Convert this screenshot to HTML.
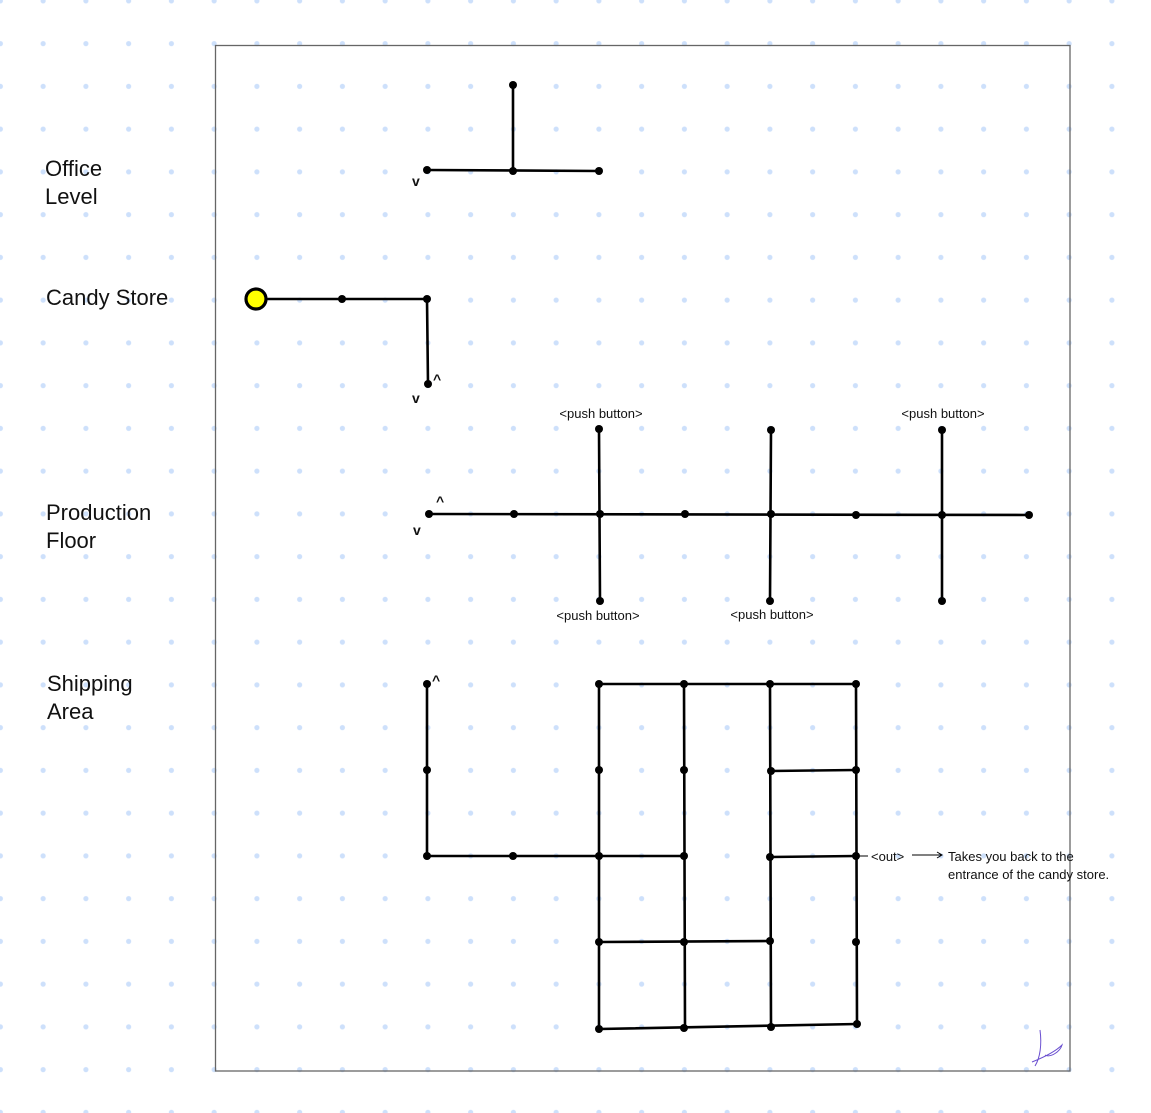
<!DOCTYPE html>
<html><head><meta charset="utf-8"><style>
html,body{margin:0;padding:0;background:#fff;}
svg{display:block;}
text{font-family:"Liberation Sans",sans-serif;fill:#111;}
</style></head><body>
<svg width="1151" height="1113" viewBox="0 0 1151 1113" xmlns="http://www.w3.org/2000/svg">
<defs>
<pattern id="g" x="-21" y="-20.5" width="42.75" height="42.75" patternUnits="userSpaceOnUse">
<circle cx="21.4" cy="21.4" r="2.6" fill="#cde0fb"/>
</pattern>
</defs>
<rect width="1151" height="1113" fill="#fff"/>
<rect width="1151" height="1113" fill="url(#g)"/>
<rect x="215.5" y="45.5" width="854.5" height="1025.5" fill="none" stroke="#666" stroke-width="1.3"/>

<text x="45" y="176" font-size="22">Office</text>
<text x="45" y="204" font-size="22">Level</text>
<text x="46" y="305" font-size="22">Candy Store</text>
<text x="46" y="520" font-size="22">Production</text>
<text x="46" y="548" font-size="22">Floor</text>
<text x="47" y="691" font-size="22">Shipping</text>
<text x="47" y="719" font-size="22">Area</text>

<g stroke="#000" stroke-width="2.6" fill="none" stroke-linecap="round">
<!-- office -->
<line x1="513" y1="85" x2="513" y2="171"/>
<line x1="427" y1="170" x2="599" y2="171"/>
<!-- candy -->
<polyline points="256,299 427,299 428,384"/>
<!-- production -->
<line x1="429" y1="514" x2="1029" y2="515"/>
<line x1="599" y1="429" x2="600" y2="601"/>
<line x1="771" y1="430" x2="770" y2="601"/>
<line x1="942" y1="430" x2="942" y2="601"/>
<!-- shipping -->
<polyline points="427,684 427,856 599,856"/>
<line x1="599" y1="684" x2="857" y2="684"/>
<line x1="599" y1="684" x2="599" y2="1029"/>
<line x1="684" y1="684" x2="685" y2="1028"/>
<line x1="770" y1="684" x2="771" y2="1027"/>
<line x1="856" y1="684" x2="857" y2="1024"/>
<line x1="599" y1="1029" x2="857" y2="1024"/>
<line x1="770" y1="771" x2="856" y2="770"/>
<line x1="599" y1="856" x2="684" y2="856"/>
<line x1="770" y1="857" x2="856" y2="856"/>
<line x1="599" y1="942" x2="770" y2="941"/>
</g>
<line x1="858" y1="856" x2="868" y2="856" stroke="#000" stroke-width="1"/>
<line x1="912" y1="855" x2="941" y2="855" stroke="#000" stroke-width="1"/>
<polyline points="937,852 942,855 937,858" fill="none" stroke="#000" stroke-width="1"/>

<g fill="#000">
<circle cx="513" cy="85" r="4"/><circle cx="427" cy="170" r="4"/><circle cx="513" cy="171" r="4"/><circle cx="599" cy="171" r="4"/>
<circle cx="342" cy="299" r="4"/><circle cx="427" cy="299" r="4"/><circle cx="428" cy="384" r="4"/>
<circle cx="429" cy="514" r="4"/><circle cx="514" cy="514" r="4"/><circle cx="600" cy="514" r="4"/><circle cx="685" cy="514" r="4"/><circle cx="771" cy="514" r="4"/><circle cx="856" cy="515" r="4"/><circle cx="942" cy="515" r="4"/><circle cx="1029" cy="515" r="4"/>
<circle cx="599" cy="429" r="4"/><circle cx="600" cy="601" r="4"/><circle cx="771" cy="430" r="4"/><circle cx="770" cy="601" r="4"/><circle cx="942" cy="430" r="4"/><circle cx="942" cy="601" r="4"/>
<circle cx="427" cy="684" r="4"/><circle cx="427" cy="770" r="4"/><circle cx="427" cy="856" r="4"/><circle cx="513" cy="856" r="4"/>
<circle cx="599" cy="684" r="4"/><circle cx="599" cy="770" r="4"/><circle cx="599" cy="856" r="4"/><circle cx="599" cy="942" r="4"/><circle cx="599" cy="1029" r="4"/>
<circle cx="684" cy="684" r="4"/><circle cx="684" cy="770" r="4"/><circle cx="684" cy="856" r="4"/><circle cx="684" cy="942" r="4"/><circle cx="684" cy="1028" r="4"/>
<circle cx="770" cy="684" r="4"/><circle cx="771" cy="771" r="4"/><circle cx="770" cy="857" r="4"/><circle cx="770" cy="941" r="4"/><circle cx="771" cy="1027" r="4"/>
<circle cx="856" cy="684" r="4"/><circle cx="856" cy="770" r="4"/><circle cx="856" cy="856" r="4"/><circle cx="856" cy="942" r="4"/><circle cx="857" cy="1024" r="4"/>
</g>
<circle cx="256" cy="299" r="10" fill="#ffff00" stroke="#000" stroke-width="3.2"/>

<g font-size="14" font-weight="bold">
<text x="412" y="186">v</text>
<text x="412" y="403">v</text>
<text x="433" y="384">^</text>
<text x="413" y="535">v</text>
<text x="436" y="506">^</text>
<text x="432" y="685">^</text>
</g>
<g font-size="13" text-anchor="middle">
<text x="601" y="418">&lt;push button&gt;</text>
<text x="943" y="418">&lt;push button&gt;</text>
<text x="598" y="620">&lt;push button&gt;</text>
<text x="772" y="619">&lt;push button&gt;</text>
</g>
<text x="871" y="861" font-size="13">&lt;out&gt;</text>
<text x="948" y="861" font-size="13">Takes you back to the</text>
<text x="948" y="879" font-size="13">entrance of the candy store.</text>
<path d="M1040,1030 C1042,1045 1040,1058 1035,1066 M1032,1062 C1042,1058 1055,1052 1062,1045 C1060,1052 1050,1058 1045,1055" fill="none" stroke="#6a4fd0" stroke-width="1"/>
</svg>
</body></html>
